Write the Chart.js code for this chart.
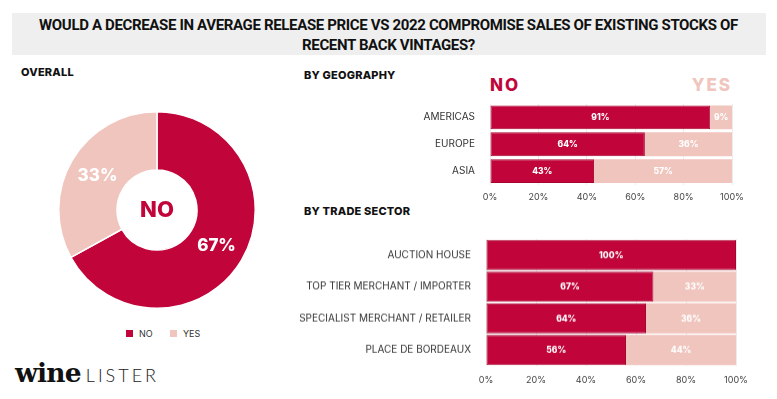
<!DOCTYPE html>
<html>
<head>
<meta charset="utf-8">
<script src="https://cdn.jsdelivr.net/npm/chart.js@4/dist/chart.umd.min.js"></script>
<style>
  html,body{margin:0;padding:0;background:#fff;width:777px;height:399px;overflow:hidden;font-family:'Open Sans',sans-serif;}
  .abs{position:absolute;}
  #band{left:12px;top:13px;width:754px;height:42px;background:#efefef;}
  .tl{position:absolute;left:0;width:777px;text-align:center;font-family:Roboto,sans-serif;font-weight:700;font-size:15px;letter-spacing:-0.35px;color:#111;white-space:nowrap;line-height:15px;}
  .hdr{position:absolute;font-family:Inter,sans-serif;font-weight:800;font-size:11px;color:#111;line-height:12px;letter-spacing:0.2px;}
  #noLbl{left:490px;top:75px;font-family:Inter,sans-serif;font-weight:800;font-size:17px;letter-spacing:2px;color:#c1053a;line-height:20px;}
  #yesLbl{left:652px;width:80px;text-align:right;top:75px;font-family:Inter,sans-serif;font-weight:800;font-size:17px;letter-spacing:2px;color:#f0c5be;line-height:20px;}
  #legend{left:100px;top:328px;width:120px;font-family:Inter,sans-serif;font-size:9px;color:#333;}
  .lg{position:absolute;top:0;white-space:nowrap;line-height:12px;}
  .sw{display:inline-block;width:7px;height:7px;margin-right:6px;vertical-align:0px;}
  #logo{left:15px;top:358px;white-space:nowrap;line-height:30px;}
  #wine{font-family:'DejaVu Serif',serif;font-weight:700;font-size:26.5px;color:#111;letter-spacing:-0.8px;}
  #lister{font-family:Lato,sans-serif;font-weight:300;font-size:18px;color:#222;letter-spacing:3px;margin-left:5px;}
</style>
</head>
<body>
<div id="band" class="abs"></div>
<div class="tl" style="top:18px">WOULD A DECREASE IN AVERAGE RELEASE PRICE VS 2022 COMPROMISE SALES OF EXISTING STOCKS OF</div>
<div class="tl" style="top:38px">RECENT BACK VINTAGES?</div>
<div class="hdr" style="left:21px;top:66px">OVERALL</div>
<div class="hdr" style="left:304px;top:69px">BY GEOGRAPHY</div>
<div class="hdr" style="left:304px;top:205px">BY TRADE SECTOR</div>
<div id="noLbl" class="abs">NO</div>
<div id="yesLbl" class="abs">YES</div>
<div id="legend" class="abs"></div>
<div id="logo" class="abs"><span id="wine">wine</span><span id="lister">LISTER</span></div>

<div class="abs" style="left:58px;top:111px;width:198px;height:198px"><canvas id="donut"></canvas></div>
<div class="abs" style="left:300px;top:81.5px;width:460px;height:123.5px"><canvas id="geo"></canvas></div>
<div class="abs" style="left:280px;top:217px;width:480px;height:172.5px"><canvas id="trade"></canvas></div>

<script>
// ---- data ----
const answerLabels = ['NO', 'YES'];
const overallValues = [67, 33];
const geoCategories = ['AMERICAS', 'EUROPE', 'ASIA'];
const geoNo = [91, 64, 43];
const geoYes = [9, 36, 57];
const tradeCategories = ['AUCTION HOUSE', 'TOP TIER MERCHANT / IMPORTER', 'SPECIALIST MERCHANT / RETAILER', 'PLACE DE BORDEAUX'];
const tradeNo = [100, 67, 64, 56];
const tradeYes = [0, 33, 36, 44];
const xTicks = [0, 20, 40, 60, 80, 100];

const RED = '#c1053a';
const PINK = '#f0c5be';

// legend
const lg = document.getElementById('legend');
[[RED, answerLabels[0], 26], [PINK, answerLabels[1], 70]].forEach(([c, t, x]) => {
  const d = document.createElement('div');
  d.className = 'lg'; d.style.left = x + 'px';
  d.innerHTML = '<span class="sw" style="background:' + c + '"></span>' + t;
  lg.appendChild(d);
});

// value label plugin
const valueLabels = {
  id: 'valueLabels',
  afterDatasetsDraw(chart, args, opts) {
    const ctx = chart.ctx;
    ctx.save();
    ctx.fillStyle = '#fff';
    ctx.font = opts.font;
    ctx.textAlign = 'center';
    ctx.textBaseline = 'middle';
    chart.data.datasets.forEach((ds, di) => {
      const meta = chart.getDatasetMeta(di);
      meta.data.forEach((el, i) => {
        const v = ds.data[i];
        if (!v) return;
        const p = el.tooltipPosition ? el.tooltipPosition() : {x: el.x, y: el.y};
        let x = p.x, y = p.y;
        if (chart.config.type === 'bar') { x = (el.x + el.base) / 2; y = el.y; }
        ctx.fillText(v + '%', x, y + (opts.dy || 0));
      });
    });
    ctx.restore();
  }
};
const centerText = {
  id: 'centerText',
  afterDraw(chart) {
    const ctx = chart.ctx;
    const m = chart.getDatasetMeta(0).data[0];
    ctx.save();
    ctx.fillStyle = RED;
    ctx.font = '800 22px Inter, sans-serif';
    ctx.textAlign = 'center';
    ctx.textBaseline = 'middle';
    ctx.fillText(answerLabels[0], m.x, m.y);
    ctx.restore();
  }
};

Chart.defaults.animation = false;
Chart.defaults.responsive = true;
Chart.defaults.maintainAspectRatio = false;

new Chart(document.getElementById('donut'), {
  type: 'doughnut',
  data: { labels: answerLabels, datasets: [{ data: overallValues, backgroundColor: [RED, PINK], borderColor: '#fff', borderWidth: 1.5 }] },
  options: {
    cutout: 40,
    plugins: { legend: { display: false }, tooltip: { enabled: false },
      valueLabels: { font: '800 17px Inter, sans-serif', dy: 1 } },
    layout: { padding: 0 }
  },
  plugins: [valueLabels, centerText]
});

function barChart(id, cats, no, yes, opt) {
  return new Chart(document.getElementById(id), {
    type: 'bar',
    data: {
      labels: cats,
      datasets: [
        { label: answerLabels[0], data: no, backgroundColor: RED, borderColor: '#a8042f', borderWidth: 1, borderSkipped: false },
        { label: answerLabels[1], data: yes, backgroundColor: PINK, borderColor: '#fff', borderWidth: 0 }
      ]
    },
    options: {
      indexAxis: 'y',
      layout: { padding: opt.pad },
      datasets: { bar: { barPercentage: opt.barPct, categoryPercentage: 1 } },
      scales: {
        x: {
          stacked: true, min: 0, max: 100,
          afterBuildTicks(s) { s.ticks = xTicks.map(v => ({ value: v })); },
          afterFit(s) { s.height = 20; },
          grid: { color: '#ececec', drawTicks: false },
          border: { display: false },
          ticks: { padding: opt.xPad, color: '#444', font: { family: 'Inter, sans-serif', size: 9 }, callback: v => v + '%' }
        },
        y: {
          stacked: true,
          afterFit(s) { s.width = opt.yw; },
          grid: { display: false, drawTicks: false },
          border: { display: false },
          ticks: { padding: 15, color: '#333', font: { family: 'Inter, sans-serif', size: opt.yFont } }
        }
      },
      plugins: { legend: { display: false }, tooltip: { enabled: false },
        valueLabels: { font: '800 8.5px Inter, sans-serif', dy: 0.5 } }
    },
    plugins: [valueLabels]
  });
}

barChart('geo', geoCategories, geoNo, geoYes, { pad: { top: 22, right: 28, bottom: 0.5, left: 0 }, barPct: 0.89, yw: 190, xPad: 7, yFont: 10 });
barChart('trade', tradeCategories, tradeNo, tradeYes, { pad: { top: 22, right: 24, bottom: 4.5, left: 0 }, barPct: 0.95, yw: 206, xPad: 9, yFont: 10 });
</script>
</body>
</html>
